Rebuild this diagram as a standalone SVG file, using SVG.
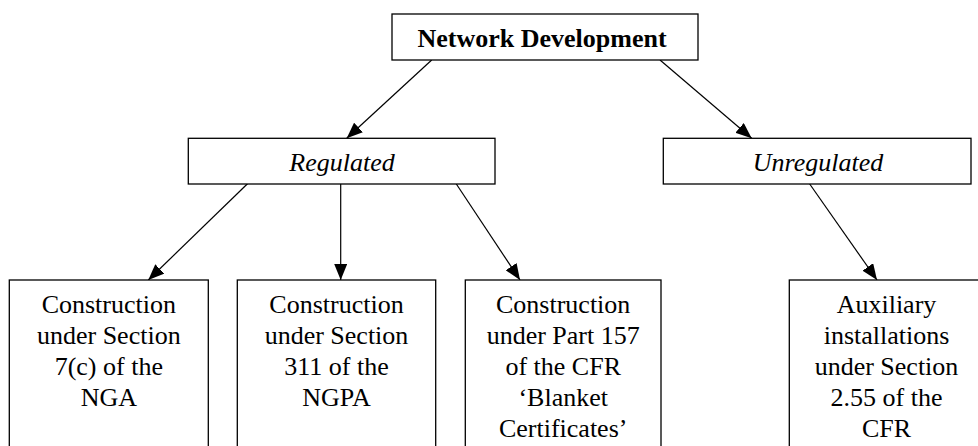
<svg xmlns="http://www.w3.org/2000/svg" width="978" height="446" viewBox="0 0 978 446">
<style>
.box{fill:#fff;stroke:#000;stroke-width:1.3}
.t{font-family:'Liberation Serif','Times New Roman',Times,serif;font-size:26px;fill:#000;text-anchor:middle}
.b{font-weight:bold}
.i{font-style:italic}
.c{stroke:#000;stroke-width:1.2;fill:none;marker-end:url(#ah)}
</style>
<defs>
<marker id="ah" markerUnits="userSpaceOnUse" markerWidth="16" markerHeight="13" refX="16" refY="6.5" orient="auto">
<path d="M0,0 L16,6.5 L0,13 z" fill="#000"/>
</marker>
</defs>
<rect width="978" height="446" fill="#fff"/>
<g id="connectors">
<line class="c" x1="431.7" y1="60" x2="346.7" y2="138.3"/>
<line class="c" x1="660" y1="60" x2="751.7" y2="138.3"/>
<line class="c" x1="249.3" y1="182" x2="148.3" y2="280"/>
<line class="c" x1="340.7" y1="182" x2="340.7" y2="280"/>
<line class="c" x1="455" y1="182" x2="520" y2="280"/>
<line class="c" x1="808.3" y1="182" x2="877" y2="280"/>
</g>
<g id="network-development">
<rect class="box" x="392" y="14" width="306" height="46"/>
<text class="t b" x="542" y="47">Network Development</text>
</g>
<g id="regulated">
<rect class="box" x="188.3" y="138.3" width="306.7" height="45.7"/>
<text class="t i" x="342" y="171">Regulated</text>
</g>
<g id="unregulated">
<rect class="box" x="663.3" y="138.3" width="307.7" height="45.7"/>
<text class="t i" x="818" y="171">Unregulated</text>
</g>
<g id="nga">
<rect class="box" x="9.3" y="280" width="199" height="190"/>
<text class="t" x="108.8"><tspan x="108.8" y="313">Construction</tspan><tspan x="108.8" y="344">under Section</tspan><tspan x="108.8" y="375">7(c) of the</tspan><tspan x="108.8" y="406">NGA</tspan></text>
</g>
<g id="ngpa">
<rect class="box" x="237.3" y="280" width="198.4" height="190"/>
<text class="t" x="336.5"><tspan x="336.5" y="313">Construction</tspan><tspan x="336.5" y="344">under Section</tspan><tspan x="336.5" y="375">311 of the</tspan><tspan x="336.5" y="406">NGPA</tspan></text>
</g>
<g id="cfr157">
<rect class="box" x="465.3" y="280" width="195.7" height="190"/>
<text class="t" x="563.2"><tspan x="563.2" y="313">Construction</tspan><tspan x="563.2" y="344">under Part 157</tspan><tspan x="563.2" y="375">of the CFR</tspan><tspan x="563.2" y="406">‘Blanket</tspan><tspan x="563.2" y="437">Certificates’</tspan></text>
</g>
<g id="auxiliary">
<rect class="box" x="789.3" y="280" width="195" height="190"/>
<text class="t" x="886.5"><tspan x="886.5" y="313">Auxiliary</tspan><tspan x="886.5" y="344">installations</tspan><tspan x="886.5" y="375">under Section</tspan><tspan x="886.5" y="406">2.55 of the</tspan><tspan x="886.5" y="437">CFR</tspan></text>
</g>
</svg>
